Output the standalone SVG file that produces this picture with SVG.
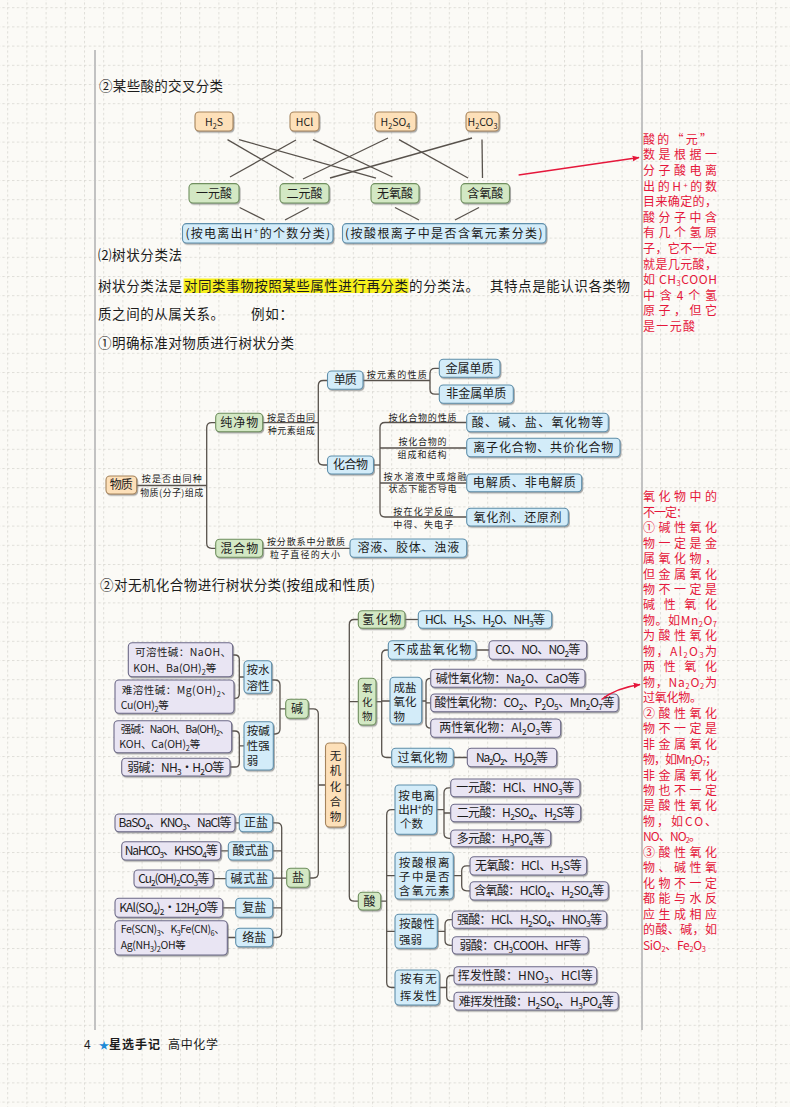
<svg xmlns="http://www.w3.org/2000/svg" width="790" height="1107" viewBox="0 0 790 1107">
<defs>
<pattern id="grid" width="19.2" height="19.2" patternUnits="userSpaceOnUse" x="7.2" y="7.2">
<path d="M0,0.5 H19.2 M0.5,0 V19.2" fill="none" stroke="#d9d7d1" stroke-width="0.8" stroke-dasharray="2.4 2.4"/>
</pattern>
<filter id="sh" x="-10%" y="-15%" width="125%" height="150%">
<feDropShadow dx="1" dy="1.3" stdDeviation="0.4" flood-color="#6f6f6f" flood-opacity="0.6"/>
</filter>
<marker id="ah" viewBox="0 0 10 10" refX="9" refY="5" markerWidth="7" markerHeight="7" orient="auto" markerUnits="userSpaceOnUse">
<path d="M0,1 L10,5 L0,9 Z" fill="#e5173b"/>
</marker>
<style>
text{font-family:"Noto Sans CJK SC","Noto Sans",sans-serif;fill:#1c1c1c}
.b{font-size:13.5px}
.n{font-size:12px;text-anchor:middle}
.ns{font-size:11.5px}
.nl{font-size:10.5px}
.nm{font-size:11.5px;text-anchor:middle}
.nv{font-size:10.5px;text-anchor:middle}
.f{font-size:10.5px;text-anchor:middle}
.l{font-size:9px;text-anchor:middle}
.rt{font-size:12px;fill:#e5173b}
.s{font-size:70%;baseline-shift:-3px}
.rs{font-size:62%;baseline-shift:-1.5px}
.p{font-size:70%;baseline-shift:4px}
.rp{font-size:62%;baseline-shift:3px}
rect{rx:4px;ry:4px;stroke-width:1.1;filter:url(#sh)}
.pe{fill:#fde0b9;stroke:#a5845c}
.gr{fill:#d3e8c4;stroke:#6f8f5e}
.bl{fill:#d3ecf9;stroke:#5f8fab}
.lv{fill:#e9e5f3;stroke:#6d6a88}
.c path,.c line{fill:none;stroke:#58524c;stroke-width:1.3}
.ra{fill:none;stroke:#e5173b;stroke-width:1.3}
</style>
</defs>
<rect x="0" y="0" width="790" height="1107" fill="#fbfaf6" style="filter:none;rx:0"/>
<rect x="0" y="0" width="790" height="1107" fill="url(#grid)" style="filter:none;rx:0"/>
<line x1="95" y1="50" x2="95" y2="1030" stroke="#c2c2c2" stroke-width="2"/>
<line x1="642" y1="50" x2="642" y2="1030" stroke="#c2c2c2" stroke-width="2"/>

<!-- headings and body -->
<g id="body-text">
<text class="b" x="99" y="91" textLength="124" lengthAdjust="spacing">②某些酸的交叉分类</text>
<text class="b" x="98" y="260" textLength="84" lengthAdjust="spacing">⑵树状分类法</text>
<rect x="183.6" y="278.6" width="225" height="14.3" fill="#f7f01e" style="filter:none;rx:0"/>
<text class="b" x="98" y="290.5" textLength="84" lengthAdjust="spacing">树状分类法是</text>
<text class="b" x="184" y="290.5" textLength="224" lengthAdjust="spacing">对同类事物按照某些属性进行再分类</text>
<text class="b" x="409" y="290.5" textLength="70" lengthAdjust="spacing">的分类法。</text>
<text class="b" x="490" y="290.5" textLength="140" lengthAdjust="spacing">其特点是能认识各类物</text>
<text class="b" x="98" y="319" textLength="126" lengthAdjust="spacing">质之间的从属关系。</text>
<text class="b" x="251" y="319" textLength="42" lengthAdjust="spacing">例如：</text>
<text class="b" x="98" y="347.5" textLength="196" lengthAdjust="spacing">①明确标准对物质进行树状分类</text>
<text class="b" x="100" y="590" textLength="275" lengthAdjust="spacing">②对无机化合物进行树状分类(按组成和性质)</text>
</g>

<!-- connectors -->
<g id="connectors" class="c">
<line x1="227.5" y1="139.6" x2="293.6" y2="178.2"/>
<line x1="239" y1="139.6" x2="376" y2="178.2"/>
<line x1="296" y1="140" x2="230" y2="177"/>
<line x1="313" y1="139.6" x2="392.5" y2="177"/>
<line x1="388" y1="138" x2="303" y2="179"/>
<line x1="399" y1="139.6" x2="468" y2="178"/>
<line x1="472" y1="138" x2="330" y2="178"/>
<line x1="482" y1="139.6" x2="482.5" y2="178"/>
<line x1="239.6" y1="207.5" x2="264.6" y2="220"/>
<line x1="308.6" y1="207.5" x2="285" y2="220"/>
<line x1="395" y1="207.5" x2="419" y2="220"/>
<line x1="479" y1="207.5" x2="455" y2="220"/>

<path d="M136.7,485.5 H206.7"/>
<path d="M215.7,422.7 H211.7 Q206.7,422.7 206.7,427.7 V543.3 Q206.7,548.3 211.7,548.3 H215.7"/>
<path d="M262.7,422.7 H318.3"/>
<path d="M327.5,380.5 H323.3 Q318.3,380.5 318.3,385.5 V460 Q318.3,465 323.3,465 H327.5"/>
<path d="M363,380.5 H430"/>
<path d="M439.3,368.3 H435 Q430,368.3 430,373.3 V389.2 Q430,394.2 435,394.2 H439.3"/>
<path d="M373.5,465 H380"/>
<path d="M466.7,422.5 H385 Q380,422.5 380,427.5 V512 Q380,517 385,517 H466.7"/>
<path d="M380,448 H466.7 M380,483 H466.7"/>
<path d="M262.7,548.3 H350"/>

<path d="M232.7,655 H235 Q239.3,655 239.3,659.3 V694 Q239.3,698.3 235,698.3 H234 M239.3,677 H244"/>
<path d="M231.7,731 H235 Q239.3,731 239.3,735.3 V762.7 Q239.3,767 235,767 H230 M239.3,745.8 H244"/>
<path d="M271.7,680 H275 Q280,680 280,685 V729 Q280,734 275,734 H273.3 M280,708.8 H285.7"/>
<path d="M308.3,708.8 H313.3 Q318.3,708.8 318.3,713.8 V873 Q318.3,878 313.3,878 H309.3 M318.3,785 H325.5"/>
<path d="M235,822.8 H239.3 M220.7,850.8 H228.3 M213.3,878.7 H226 M222.7,907.8 H235.7 M227.3,937.5 H235.7"/>
<path d="M272.7,822.8 H276.7 Q281.7,822.8 281.7,827.8 V932.5 Q281.7,937.5 276.7,937.5 H272.7 M272.7,850.8 H281.7 M272.7,878.2 H286.7 M272.7,907.8 H281.7"/>

<path d="M358.3,619.5 H354.3 Q349.3,619.5 349.3,624.5 V896.2 Q349.3,901.2 354.3,901.2 H358.3 M349.3,701.7 H358.3 M345.5,785 H349.3"/>
<path d="M405,619.5 H418.3"/>
<path d="M376,701.7 H381.7"/>
<path d="M388.3,650 H386.7 Q381.7,650 381.7,655 V752.5 Q381.7,757.5 386.7,757.5 H391.7 M381.7,701 H390"/>
<path d="M476,650 H489 M453.3,757.5 H467.3"/>
<path d="M421.7,701 H426 M430.7,678.3 Q426,678.3 426,683 V723.5 Q426,728.2 430.7,728.2 M426,702.8 H430.7"/>
<path d="M380.7,901.2 H386.7 M395,809.7 H391.7 Q386.7,809.7 386.7,814.7 V982.5 Q386.7,987.5 391.7,987.5 H395 M386.7,875.7 H395 M386.7,931.3 H395"/>
<path d="M436.7,809.7 H444 M450.7,787.8 H449 Q444,787.8 444,792.8 V833.3 Q444,838.3 449,838.3 H450.7 M444,813 H450.7"/>
<path d="M453.3,875.7 H461.7 M470,865.8 H466.7 Q461.7,865.8 461.7,870.8 V885.8 Q461.7,890.8 466.7,890.8 H470"/>
<path d="M437.3,931.3 H445 M452.3,919.7 H450 Q445,919.7 445,924.7 V940.3 Q445,945.3 450,945.3 H452.3"/>
<path d="M439.3,987.5 H446.7 M454,975.5 H451.7 Q446.7,975.5 446.7,980.5 V996.2 Q446.7,1001.2 451.7,1001.2 H454"/>
</g>

<!-- edge labels -->
<g id="edge-labels">
<text class="l" x="171.7" y="481.5" textLength="60" lengthAdjust="spacing">按是否由同种</text>
<text class="l" x="171.7" y="495.5" textLength="63" lengthAdjust="spacing">物质(分子)组成</text>
<text class="l" x="291" y="420.5" textLength="48" lengthAdjust="spacing">按是否由同</text>
<text class="l" x="291.3" y="434" textLength="47" lengthAdjust="spacing">种元素组成</text>
<text class="l" x="306" y="545" textLength="78" lengthAdjust="spacing">按分散系中分散质</text>
<text class="l" x="305" y="558" textLength="70" lengthAdjust="spacing">粒子直径的大小</text>
<text class="l" x="396.7" y="378" textLength="60" lengthAdjust="spacing">按元素的性质</text>
<text class="l" x="422.5" y="420.5" textLength="68" lengthAdjust="spacing">按化合物的性质</text>
<text class="l" x="422.5" y="444.5" textLength="48" lengthAdjust="spacing">按化合物的</text>
<text class="l" x="422" y="457.5" textLength="49" lengthAdjust="spacing">组成和结构</text>
<text class="l" x="425" y="479.5" textLength="83" lengthAdjust="spacing">按水溶液中或熔融</text>
<text class="l" x="422.5" y="491.5" textLength="68" lengthAdjust="spacing">状态下能否导电</text>
<text class="l" x="423.3" y="515" textLength="60" lengthAdjust="spacing">按在化学反应</text>
<text class="l" x="423.3" y="527.5" textLength="60" lengthAdjust="spacing">中得、失电子</text>
</g>

<!-- section 1 nodes -->
<g id="n-h2s"><rect class="pe" x="195" y="112" width="38" height="19"/><text class="f" x="214" y="125.5">H<tspan class="s">2</tspan>S</text></g>
<g id="n-hcl"><rect class="pe" x="290" y="112" width="29" height="19"/><text class="f" x="304.5" y="125.5">HCl</text></g>
<g id="n-h2so4"><rect class="pe" x="375" y="112" width="41" height="19"/><text class="f" x="395.5" y="125.5">H<tspan class="s">2</tspan>SO<tspan class="s">4</tspan></text></g>
<g id="n-h2co3"><rect class="pe" x="466" y="112" width="33" height="19"/><text class="f" x="482.5" y="125.5">H<tspan class="s">2</tspan>CO<tspan class="s">3</tspan></text></g>
<g id="n-yiyuan"><rect class="gr" x="189" y="183.6" width="50" height="19.4"/><text class="n" x="214" y="197.7" textLength="36" lengthAdjust="spacing">一元酸</text></g>
<g id="n-eryuan"><rect class="gr" x="280" y="183.6" width="49" height="19.4"/><text class="n" x="304.5" y="197.7" textLength="36" lengthAdjust="spacing">二元酸</text></g>
<g id="n-wuyang"><rect class="gr" x="371" y="183.6" width="48" height="19.4"/><text class="n" x="395" y="197.7" textLength="36" lengthAdjust="spacing">无氧酸</text></g>
<g id="n-hanyang"><rect class="gr" x="461" y="183.6" width="48.5" height="19.4"/><text class="n" x="485.2" y="197.7" textLength="36" lengthAdjust="spacing">含氧酸</text></g>
<g id="n-fen1"><rect class="bl" x="182.5" y="223.6" width="150.5" height="19.4"/><text class="n" x="257.7" y="237.7" textLength="144.6" lengthAdjust="spacing">(按电离出H<tspan class="p">+</tspan>的个数分类)</text></g>
<g id="n-fen2"><rect class="bl" x="342.5" y="223.6" width="203.5" height="19.4"/><text class="n" x="443.8" y="237.7" textLength="197.5" lengthAdjust="spacing">(按酸根离子中是否含氧元素分类)</text></g>

<!-- tree 1 nodes -->
<g id="n-wuzhi"><rect class="pe" x="106" y="476" width="30.7" height="18"/><text class="n" x="121.3" y="489.3" textLength="23" lengthAdjust="spacing">物质</text></g>
<g id="n-chunjing"><rect class="gr" x="215.7" y="413.3" width="47" height="18.4"/><text class="n" x="239.2" y="426.8" textLength="38" lengthAdjust="spacing">纯净物</text></g>
<g id="n-hunhe"><rect class="gr" x="215.7" y="539.3" width="47" height="18"/><text class="n" x="239.2" y="552.6" textLength="38" lengthAdjust="spacing">混合物</text></g>
<g id="n-danzhi"><rect class="bl" x="327.5" y="371" width="35.5" height="18.3"/><text class="n" x="345.3" y="384.4" textLength="23" lengthAdjust="spacing">单质</text></g>
<g id="n-huahe"><rect class="bl" x="327.5" y="456" width="46" height="18"/><text class="n" x="350.5" y="469.3" textLength="35" lengthAdjust="spacing">化合物</text></g>
<g id="n-jinshu"><rect class="bl" x="439.3" y="359.3" width="60.7" height="18"/><text class="n" x="469.6" y="372.6" textLength="48" lengthAdjust="spacing">金属单质</text></g>
<g id="n-feijinshu"><rect class="bl" x="439.3" y="385" width="74" height="18.3"/><text class="n" x="476.3" y="398.4" textLength="60" lengthAdjust="spacing">非金属单质</text></g>
<g id="n-suanjian"><rect class="bl" x="466.7" y="413.3" width="141.6" height="18.4"/><text class="n" x="537.5" y="426.8" textLength="131.6" lengthAdjust="spacing">酸、碱、盐、氧化物等</text></g>
<g id="n-lizi"><rect class="bl" x="466.7" y="438.3" width="153.3" height="18.4"/><text class="n" x="543.3" y="451.8" textLength="140" lengthAdjust="spacing">离子化合物、共价化合物</text></g>
<g id="n-dianjie"><rect class="bl" x="466.7" y="474" width="115" height="17.7"/><text class="n" x="524.2" y="487.2" textLength="103" lengthAdjust="spacing">电解质、非电解质</text></g>
<g id="n-yanghua"><rect class="bl" x="466.7" y="508.3" width="101.6" height="17.7"/><text class="n" x="517.5" y="521.5" textLength="88" lengthAdjust="spacing">氧化剂、还原剂</text></g>
<g id="n-rongye"><rect class="bl" x="350" y="539" width="116.7" height="18.3"/><text class="n" x="408.3" y="552.4" textLength="101.7" lengthAdjust="spacing">溶液、胶体、浊液</text></g>

<!-- tree 2 left nodes -->
<g id="n-kerong"><rect class="lv" x="128.3" y="642.7" width="104.4" height="34"/><text class="nl" x="135" y="656" textLength="96" lengthAdjust="spacing">可溶性碱：NaOH、</text><text class="nl" x="133.3" y="672" textLength="83" lengthAdjust="spacing">KOH、Ba(OH)<tspan class="s">2</tspan>等</text></g>
<g id="n-nanrong"><rect class="lv" x="115" y="680" width="119" height="33.3"/><text class="nl" x="121.7" y="694" textLength="110" lengthAdjust="spacing">难溶性碱：Mg(OH)<tspan class="s">2</tspan>、</text><text class="nl" x="120.7" y="709" textLength="48" lengthAdjust="spacing">Cu(OH)<tspan class="s">2</tspan>等</text></g>
<g id="n-qiangjian"><rect class="lv" x="114" y="720.7" width="117.7" height="32"/><text class="nl" x="120.7" y="732.5" textLength="109" lengthAdjust="spacing">强碱：NaOH、Ba(OH)<tspan class="s">2</tspan>、</text><text class="nl" x="119.3" y="747.5" textLength="81" lengthAdjust="spacing">KOH、Ca(OH)<tspan class="s">2</tspan>等</text></g>
<g id="n-ruojian"><rect class="lv" x="121.7" y="758.3" width="108.3" height="17.7"/><text class="n" x="175.8" y="771.5" textLength="97" lengthAdjust="spacing">弱碱：NH<tspan class="s">3</tspan>·H<tspan class="s">2</tspan>O等</text></g>
<g id="n-anshuirong"><rect class="bl" x="244" y="660.7" width="27.7" height="32.6"/><text class="ns" x="246.5" y="674">按水</text><text class="ns" x="246.5" y="689.5">溶性</text></g>
<g id="n-anjianxing"><rect class="bl" x="244" y="721.7" width="29.3" height="48.3"/><text class="ns" x="246.7" y="734.5">按碱</text><text class="ns" x="246.7" y="750">性强</text><text class="ns" x="246.7" y="765.3">弱</text></g>
<g id="n-jian"><rect class="gr" x="285.7" y="699.3" width="22.6" height="19"/><text class="n" x="297" y="713">碱</text></g>
<g id="n-wuji"><rect class="pe" x="325.5" y="743" width="20" height="84"/><text class="nm" x="335.5" y="759.5">无<tspan x="335.5" dy="15.5">机</tspan><tspan x="335.5" dy="15.5">化</tspan><tspan x="335.5" dy="15">合</tspan><tspan x="335.5" dy="15">物</tspan></text></g>
<g id="n-zhengyan"><rect class="bl" x="239.3" y="814" width="33.4" height="17.7"/><text class="n" x="256" y="827.2">正盐</text></g>
<g id="n-baso4"><rect class="lv" x="115" y="814" width="120" height="17.7"/><text class="n" x="175" y="827.2" textLength="113" lengthAdjust="spacing">BaSO<tspan class="s">4</tspan>、KNO<tspan class="s">3</tspan>、NaCl等</text></g>
<g id="n-suanshi"><rect class="bl" x="228.3" y="841.7" width="44.4" height="18.3"/><text class="n" x="250.5" y="855.2" textLength="36" lengthAdjust="spacing">酸式盐</text></g>
<g id="n-nahco3"><rect class="lv" x="121.7" y="841.7" width="99" height="18.3"/><text class="n" x="171.2" y="855.2" textLength="93" lengthAdjust="spacing">NaHCO<tspan class="s">3</tspan>、KHSO<tspan class="s">4</tspan>等</text></g>
<g id="n-jianshi"><rect class="bl" x="226" y="870" width="46.7" height="17.3"/><text class="n" x="249.3" y="883" textLength="37.6" lengthAdjust="spacing">碱式盐</text></g>
<g id="n-cu2oh"><rect class="lv" x="134" y="870" width="79.3" height="17.3"/><text class="n" x="173.7" y="883" textLength="71" lengthAdjust="spacing">Cu<tspan class="s">2</tspan>(OH)<tspan class="s">2</tspan>CO<tspan class="s">3</tspan>等</text></g>
<g id="n-fuyan"><rect class="bl" x="235.7" y="898.3" width="37" height="19"/><text class="n" x="254.2" y="912">复盐</text></g>
<g id="n-kal"><rect class="lv" x="115" y="898.3" width="107.7" height="19"/><text class="n" x="168.8" y="912" textLength="99" lengthAdjust="spacing">KAl(SO<tspan class="s">4</tspan>)<tspan class="s">2</tspan>·12H<tspan class="s">2</tspan>O等</text></g>
<g id="n-luoyan"><rect class="bl" x="235.7" y="928.3" width="37" height="18.4"/><text class="n" x="254.2" y="941.7">络盐</text></g>
<g id="n-fescn"><rect class="lv" x="115" y="920.7" width="112.3" height="34.3"/><text class="nl" x="120.7" y="933" textLength="104" lengthAdjust="spacing">Fe(SCN)<tspan class="s">3</tspan>、K<tspan class="s">3</tspan>Fe(CN)<tspan class="s">6</tspan>、</text><text class="nl" x="120.7" y="949" textLength="65" lengthAdjust="spacing">Ag(NH<tspan class="s">3</tspan>)<tspan class="s">2</tspan>OH等</text></g>
<g id="n-yan"><rect class="gr" x="286.7" y="868.3" width="22.6" height="19"/><text class="n" x="298" y="882">盐</text></g>

<!-- tree 2 right nodes -->
<g id="n-qinghua"><rect class="gr" x="358.3" y="610.7" width="46.7" height="17.6"/><text class="n" x="381.7" y="623.8" textLength="39" lengthAdjust="spacing">氢化物</text></g>
<g id="n-hcl2"><rect class="bl" x="418.3" y="610.7" width="133.4" height="17.6"/><text class="n" x="485" y="623.8" textLength="120" lengthAdjust="spacing">HCl、H<tspan class="s">2</tspan>S、H<tspan class="s">2</tspan>O、NH<tspan class="s">3</tspan>等</text></g>
<g id="n-yanghuawu"><rect class="gr" x="358.3" y="678.3" width="17.7" height="46.7"/><text class="nv" x="367.2" y="692">氧<tspan x="367.2" dy="14">化</tspan><tspan x="367.2" dy="14">物</tspan></text></g>
<g id="n-buchengyan"><rect class="bl" x="388.3" y="640.7" width="87.7" height="18.6"/><text class="n" x="432.2" y="654.2" textLength="78" lengthAdjust="spacing">不成盐氧化物</text></g>
<g id="n-co"><rect class="lv" x="489" y="640.7" width="97.7" height="18.6"/><text class="n" x="537.8" y="654.2" textLength="85" lengthAdjust="spacing">CO、NO、NO<tspan class="s">2</tspan>等</text></g>
<g id="n-chengyan"><rect class="bl" x="390" y="677.3" width="31.7" height="46.7"/><text class="ns" x="393.5" y="691.5">成盐</text><text class="ns" x="393.5" y="706">氧化</text><text class="ns" x="393.5" y="720.5">物</text></g>
<g id="n-jianxingyh"><rect class="lv" x="430.7" y="669.3" width="154.3" height="18"/><text class="n" x="507.8" y="682.6" textLength="144" lengthAdjust="spacing">碱性氧化物：Na<tspan class="s">2</tspan>O、CaO等</text></g>
<g id="n-suanxingyh"><rect class="lv" x="430.7" y="694" width="187.6" height="17.7"/><text class="n" x="524.5" y="707.2" textLength="180" lengthAdjust="spacing">酸性氧化物：CO<tspan class="s">2</tspan>、P<tspan class="s">2</tspan>O<tspan class="s">5</tspan>、Mn<tspan class="s">2</tspan>O<tspan class="s">7</tspan>等</text></g>
<g id="n-liangxing"><rect class="lv" x="430.7" y="719" width="130" height="18.3"/><text class="n" x="495.7" y="732.4" textLength="113" lengthAdjust="spacing">两性氧化物：Al<tspan class="s">2</tspan>O<tspan class="s">3</tspan>等</text></g>
<g id="n-guoyang"><rect class="bl" x="391.7" y="748.3" width="61.6" height="18.4"/><text class="n" x="422.5" y="761.8" textLength="50" lengthAdjust="spacing">过氧化物</text></g>
<g id="n-na2o2"><rect class="lv" x="467.3" y="748.3" width="89.4" height="18.4"/><text class="n" x="512" y="761.8" textLength="72" lengthAdjust="spacing">Na<tspan class="s">2</tspan>O<tspan class="s">2</tspan>、H<tspan class="s">2</tspan>O<tspan class="s">2</tspan>等</text></g>
<g id="n-suan"><rect class="gr" x="358.3" y="892.3" width="22.4" height="17.7"/><text class="n" x="369.5" y="905.5">酸</text></g>
<g id="n-andianli"><rect class="bl" x="395" y="785" width="41.7" height="49.3"/><text class="ns" x="398.3" y="799.5" textLength="36.7" lengthAdjust="spacing">按电离</text><text class="ns" x="398.3" y="814" textLength="35" lengthAdjust="spacing">出H<tspan class="p">+</tspan>的</text><text class="ns" x="400" y="828.3">个数</text></g>
<g id="n-yiyuan2"><rect class="lv" x="450.7" y="779" width="129.3" height="17.7"/><text class="n" x="515.3" y="792.2" textLength="118" lengthAdjust="spacing">一元酸：HCl、HNO<tspan class="s">3</tspan>等</text></g>
<g id="n-eryuan2"><rect class="lv" x="450.7" y="804.3" width="130" height="17.4"/><text class="n" x="515.7" y="817.3" textLength="118" lengthAdjust="spacing">二元酸：H<tspan class="s">2</tspan>SO<tspan class="s">4</tspan>、H<tspan class="s">2</tspan>S等</text></g>
<g id="n-duoyuan"><rect class="lv" x="450.7" y="830" width="100" height="16.7"/><text class="n" x="500.7" y="842.7" textLength="88" lengthAdjust="spacing">多元酸：H<tspan class="s">3</tspan>PO<tspan class="s">4</tspan>等</text></g>
<g id="n-ansuangen"><rect class="bl" x="395" y="852.3" width="58.3" height="46.7"/><text class="nm" x="424.2" y="866.5" textLength="50.7" lengthAdjust="spacing">按酸根离</text><text class="nm" x="424.2" y="881" textLength="50.7" lengthAdjust="spacing">子中是否</text><text class="nm" x="424.2" y="895" textLength="50.7" lengthAdjust="spacing">含氧元素</text></g>
<g id="n-wuyang2"><rect class="lv" x="470" y="856.7" width="116.7" height="18.3"/><text class="n" x="528.3" y="870.2" textLength="106.7" lengthAdjust="spacing">无氧酸：HCl、H<tspan class="s">2</tspan>S等</text></g>
<g id="n-hanyang2"><rect class="lv" x="470" y="881.7" width="138.3" height="18.3"/><text class="n" x="539.2" y="895.2" textLength="130" lengthAdjust="spacing">含氧酸：HClO<tspan class="s">4</tspan>、H<tspan class="s">2</tspan>SO<tspan class="s">4</tspan>等</text></g>
<g id="n-ansuanxing"><rect class="bl" x="395" y="914.3" width="42.3" height="34"/><text class="ns" x="399" y="927.5" textLength="35.7" lengthAdjust="spacing">按酸性</text><text class="ns" x="399" y="943.5">强弱</text></g>
<g id="n-qiangsuan"><rect class="lv" x="452.3" y="911" width="154.4" height="17.3"/><text class="n" x="529.5" y="924" textLength="145" lengthAdjust="spacing">强酸：HCl、H<tspan class="s">2</tspan>SO<tspan class="s">4</tspan>、HNO<tspan class="s">3</tspan>等</text></g>
<g id="n-ruosuan"><rect class="lv" x="452.3" y="936.7" width="136" height="17.3"/><text class="n" x="520.3" y="949.7" textLength="121.7" lengthAdjust="spacing">弱酸：CH<tspan class="s">3</tspan>COOH、HF等</text></g>
<g id="n-anhuifa"><rect class="bl" x="395" y="970" width="44.3" height="35"/><text class="ns" x="400" y="982.5" textLength="36.7" lengthAdjust="spacing">按有无</text><text class="ns" x="400" y="999.5" textLength="36.7" lengthAdjust="spacing">挥发性</text></g>
<g id="n-huifa"><rect class="lv" x="454" y="966.7" width="142.7" height="17.6"/><text class="n" x="525.3" y="979.8" textLength="135" lengthAdjust="spacing">挥发性酸：HNO<tspan class="s">3</tspan>、HCl等</text></g>
<g id="n-nanhuifa"><rect class="lv" x="454" y="992.3" width="164.3" height="17.7"/><text class="n" x="536.2" y="1005.5" textLength="155" lengthAdjust="spacing">难挥发性酸：H<tspan class="s">2</tspan>SO<tspan class="s">4</tspan>、H<tspan class="s">3</tspan>PO<tspan class="s">4</tspan>等</text></g>

<!-- red annotations -->
<g id="note1">
<path class="ra" d="M518.6,175 L639,157.5" marker-end="url(#ah)"/>
<text class="rt" x="643" y="143.8" textLength="69" lengthAdjust="spacing">酸的“元”</text>
<text class="rt" x="643" y="159.4" textLength="74" lengthAdjust="spacing">数是根据一</text>
<text class="rt" x="643" y="175" textLength="74" lengthAdjust="spacing">分子酸电离</text>
<text class="rt" x="643" y="190.6" textLength="74" lengthAdjust="spacing">出的H<tspan class="rp">+</tspan>的数</text>
<text class="rt" x="643" y="206.2" textLength="74" lengthAdjust="spacing">目来确定的，</text>
<text class="rt" x="643" y="221.8" textLength="74" lengthAdjust="spacing">酸分子中含</text>
<text class="rt" x="643" y="237.4" textLength="74" lengthAdjust="spacing">有几个氢原</text>
<text class="rt" x="643" y="253" textLength="74" lengthAdjust="spacing">子，它不一定</text>
<text class="rt" x="643" y="268.6" textLength="74" lengthAdjust="spacing">就是几元酸，</text>
<text class="rt" x="643" y="284.2" textLength="74" lengthAdjust="spacing">如 CH<tspan class="rs">3</tspan>COOH</text>
<text class="rt" x="643" y="299.8" textLength="74" lengthAdjust="spacing">中含4个氢</text>
<text class="rt" x="643" y="315.4" textLength="74" lengthAdjust="spacing">原子，但它</text>
<text class="rt" x="643" y="331" textLength="52" lengthAdjust="spacing">是一元酸</text>
</g>
<g id="note2">
<path class="ra" d="M601.5,699.5 Q616,688 640,684.5" marker-end="url(#ah)"/>
<text class="rt" x="643" y="501.2" textLength="74" lengthAdjust="spacing">氧化物中的</text>
<text class="rt" x="643" y="516.7" textLength="45" lengthAdjust="spacing">不一定：</text>
<text class="rt" x="643" y="532.1" textLength="74" lengthAdjust="spacing">①碱性氧化</text>
<text class="rt" x="643" y="547.6" textLength="74" lengthAdjust="spacing">物一定是金</text>
<text class="rt" x="643" y="563" textLength="74" lengthAdjust="spacing">属氧化物，</text>
<text class="rt" x="643" y="578.5" textLength="74" lengthAdjust="spacing">但金属氧化</text>
<text class="rt" x="643" y="594" textLength="74" lengthAdjust="spacing">物不一定是</text>
<text class="rt" x="643" y="609.4" textLength="74" lengthAdjust="spacing">碱性氧化</text>
<text class="rt" x="643" y="624.9" textLength="74" lengthAdjust="spacing">物。如Mn<tspan class="rs">2</tspan>O<tspan class="rs">7</tspan></text>
<text class="rt" x="643" y="640.3" textLength="74" lengthAdjust="spacing">为酸性氧化</text>
<text class="rt" x="643" y="655.8" textLength="74" lengthAdjust="spacing">物，Al<tspan class="rs">2</tspan>O<tspan class="rs">3</tspan>为</text>
<text class="rt" x="643" y="671.3" textLength="74" lengthAdjust="spacing">两性氧化</text>
<text class="rt" x="643" y="686.7" textLength="74" lengthAdjust="spacing">物，Na<tspan class="rs">2</tspan>O<tspan class="rs">2</tspan>为</text>
<text class="rt" x="643" y="702.2" textLength="59" lengthAdjust="spacing">过氧化物。</text>
<text class="rt" x="643" y="717.6" textLength="74" lengthAdjust="spacing">②酸性氧化</text>
<text class="rt" x="643" y="733.1" textLength="74" lengthAdjust="spacing">物不一定是</text>
<text class="rt" x="643" y="748.6" textLength="74" lengthAdjust="spacing">非金属氧化</text>
<text class="rt" x="643" y="764" textLength="74" lengthAdjust="spacing">物，如Mn<tspan class="rs">2</tspan>O<tspan class="rs">7</tspan>；</text>
<text class="rt" x="643" y="779.5" textLength="74" lengthAdjust="spacing">非金属氧化</text>
<text class="rt" x="643" y="794.9" textLength="74" lengthAdjust="spacing">物也不一定</text>
<text class="rt" x="643" y="810.4" textLength="74" lengthAdjust="spacing">是酸性氧化</text>
<text class="rt" x="643" y="825.9" textLength="74" lengthAdjust="spacing">物，如CO、</text>
<text class="rt" x="643" y="841.3" textLength="58" lengthAdjust="spacing">NO、NO<tspan class="rs">2</tspan>。</text>
<text class="rt" x="643" y="856.8" textLength="74" lengthAdjust="spacing">③酸性氧化</text>
<text class="rt" x="643" y="872.2" textLength="74" lengthAdjust="spacing">物、碱性氧</text>
<text class="rt" x="643" y="887.7" textLength="74" lengthAdjust="spacing">化物不一定</text>
<text class="rt" x="643" y="903.2" textLength="74" lengthAdjust="spacing">都能与水反</text>
<text class="rt" x="643" y="918.6" textLength="74" lengthAdjust="spacing">应生成相应</text>
<text class="rt" x="643" y="934.1" textLength="74" lengthAdjust="spacing">的酸、碱，如</text>
<text class="rt" x="643" y="949.5" textLength="63" lengthAdjust="spacing">SiO<tspan class="rs">2</tspan>、Fe<tspan class="rs">2</tspan>O<tspan class="rs">3</tspan></text>
</g>

<!-- footer -->
<g id="footer">
<text x="84" y="1049" style="font-size:12px">4</text>
<text x="99" y="1048.5" style="font-size:10px;fill:#1e8ad6">★</text>
<text x="109" y="1049" style="font-size:12px;font-weight:bold" textLength="51" lengthAdjust="spacing">星选手记</text>
<text x="168" y="1049" style="font-size:12px" textLength="50" lengthAdjust="spacing">高中化学</text>
</g>
</svg>
